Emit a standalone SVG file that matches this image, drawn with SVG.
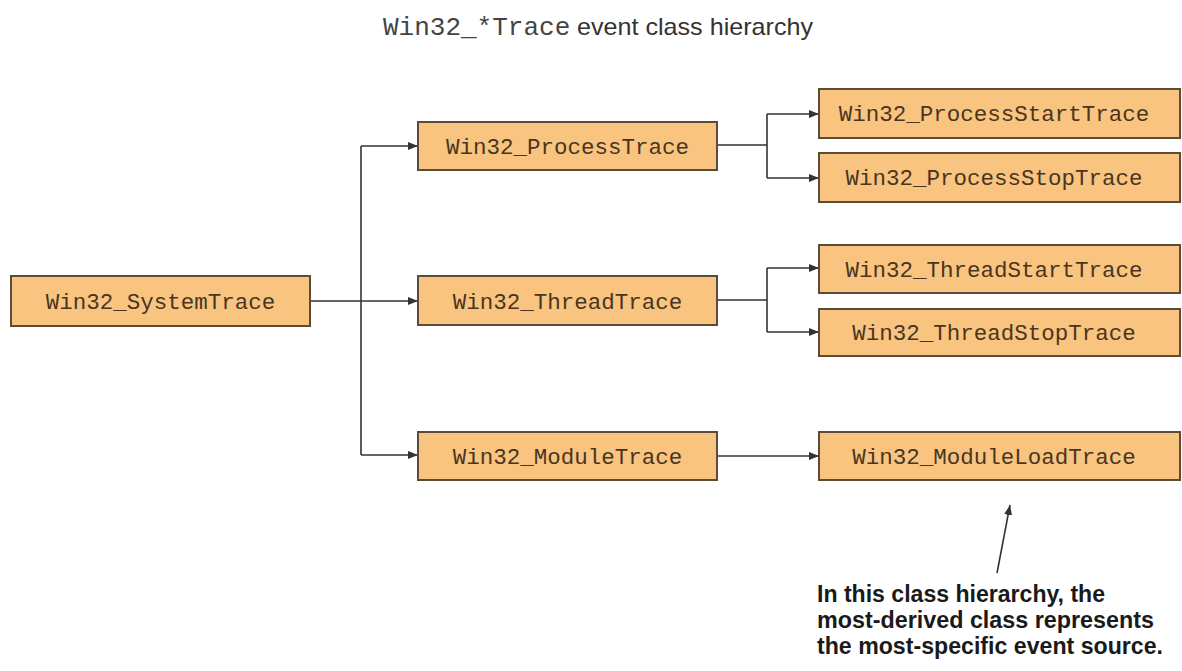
<svg xmlns="http://www.w3.org/2000/svg" width="1182" height="671" viewBox="0 0 1182 671">
<defs>
<style>
.box{fill:#F8C47F;stroke:#5b4b3b;stroke-width:2}
.lbl{font-family:"Liberation Mono","Courier New",monospace;font-size:22.5px;fill:#4a3520;text-anchor:middle}
.con{fill:none;stroke:#333;stroke-width:1.6}
.note{font-family:"Liberation Sans",Arial,sans-serif;font-weight:bold;font-size:23px;fill:#1a1a1a}
</style>
<marker id="ah" viewBox="0 0 10 8" refX="10" refY="4" markerWidth="10" markerHeight="8" markerUnits="userSpaceOnUse" orient="auto">
<path d="M0,0 L10,4 L0,8 Z" fill="#333"/>
</marker>
</defs>
<rect width="1182" height="671" fill="#fff"/>
<g id="title">
<text x="383" y="35" font-family="'Liberation Mono','Courier New',monospace" font-size="26px" fill="#444">Win32_*Trace</text>
<text x="577" y="35" font-family="'Liberation Sans',Arial,sans-serif" font-size="24px" fill="#333" textLength="236" lengthAdjust="spacingAndGlyphs">event class hierarchy</text>
</g>
<g id="connectors">
<path class="con" d="M310,301 H418" marker-end="url(#ah)"/>
<path class="con" d="M361,146 V455"/>
<path class="con" d="M361,146 H418" marker-end="url(#ah)"/>
<path class="con" d="M361,455 H418" marker-end="url(#ah)"/>
<path class="con" d="M717,145 H767"/>
<path class="con" d="M767,114 V178"/>
<path class="con" d="M767,114 H819" marker-end="url(#ah)"/>
<path class="con" d="M767,178 H819" marker-end="url(#ah)"/>
<path class="con" d="M717,300 H767"/>
<path class="con" d="M767,268 V332"/>
<path class="con" d="M767,268 H819" marker-end="url(#ah)"/>
<path class="con" d="M767,332 H819" marker-end="url(#ah)"/>
<path class="con" d="M717,456 H819" marker-end="url(#ah)"/>
<path class="con" d="M997,573 L1010,505" marker-end="url(#ah)"/>
</g>
<g id="system"><rect class="box" x="11" y="276" width="299" height="50"/><text class="lbl" x="160.5" y="309">Win32_SystemTrace</text></g>
<g id="process"><rect class="box" x="418" y="122" width="299" height="48"/><text class="lbl" x="567.5" y="154">Win32_ProcessTrace</text></g>
<g id="thread"><rect class="box" x="418" y="276" width="299" height="49"/><text class="lbl" x="567.5" y="309">Win32_ThreadTrace</text></g>
<g id="module"><rect class="box" x="418" y="432" width="299" height="48"/><text class="lbl" x="567.5" y="464">Win32_ModuleTrace</text></g>
<g id="processStart"><rect class="box" x="819" y="89" width="361" height="49"/><text class="lbl" x="994" y="121">Win32_ProcessStartTrace</text></g>
<g id="processStop"><rect class="box" x="819" y="153" width="361" height="49"/><text class="lbl" x="994" y="185">Win32_ProcessStopTrace</text></g>
<g id="threadStart"><rect class="box" x="819" y="245" width="361" height="48"/><text class="lbl" x="994" y="277">Win32_ThreadStartTrace</text></g>
<g id="threadStop"><rect class="box" x="819" y="309" width="361" height="47"/><text class="lbl" x="994" y="340">Win32_ThreadStopTrace</text></g>
<g id="moduleLoad"><rect class="box" x="819" y="432" width="361" height="48"/><text class="lbl" x="994" y="464">Win32_ModuleLoadTrace</text></g>
<g id="note">
<text class="note" x="817" y="602" textLength="288" lengthAdjust="spacingAndGlyphs">In this class hierarchy, the</text>
<text class="note" x="817" y="628" textLength="337" lengthAdjust="spacingAndGlyphs">most-derived class represents</text>
<text class="note" x="817" y="654" textLength="346" lengthAdjust="spacingAndGlyphs">the most-specific event source.</text>
</g>
</svg>
